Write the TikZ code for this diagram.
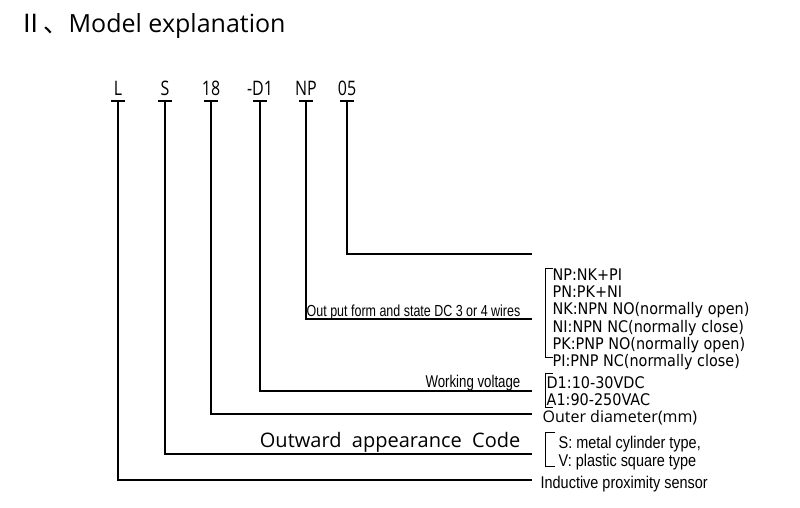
\documentclass[tikz,border=0pt]{standalone}
\usepackage{fontspec}
\setmainfont{DejaVu Sans}
\newfontfamily\cond[FakeStretch=0.78]{Liberation Sans}
\newfontfamily\condb[FakeStretch=0.85]{Liberation Sans}
\newfontfamily\mono[FakeStretch=0.9]{DejaVu Sans}
\newfontfamily\ttl{Open Sans}
\newfontfamily\codef[FakeStretch=0.8]{Open Sans}
\newfontfamily\cjk{Noto Sans CJK SC}
\begin{document}
\begin{tikzpicture}[x=1pt,y=-1pt,line width=1.3pt,
  code/.style={inner sep=0pt,anchor=base,font=\codef\fontsize{20}{20}\selectfont},
  lab/.style={inner sep=0pt,anchor=base east,font=\cond\fontsize{16}{16}\selectfont},
  opt/.style={inner sep=0pt,anchor=base west,font=\mono\fontsize{16}{16}\selectfont},
  opts/.style={inner sep=0pt,anchor=base west,font=\condb\fontsize{17}{17}\selectfont}]
\useasboundingbox (0,0) rectangle (800,508);
\node[inner sep=0pt,anchor=base west,font=\ttl\fontsize{25}{25}\selectfont] (title) at (18,33) {{\cjk Ⅱ、}Model explanation};
\foreach \n/\x/\t in {cL/118/L,cS/165/S,c18/211/18,cD/260/-D1,cNP/306/NP,c05/347/05}{
  \node[code] (\n) at (\x,96) {\t};
  \draw (\x-7,101) -- (\x+7,101);
}
\coordinate (e05) at (532,254);
\coordinate (eNP) at (532,319);
\coordinate (eD) at (532,391);
\coordinate (e18) at (532,414);
\coordinate (eS) at (532,454);
\coordinate (eL) at (532,480);
\draw (cL.south |- 0,101) |- (eL);
\draw (cS.south |- 0,101) |- (eS);
\draw (c18.south |- 0,101) |- (e18);
\draw (cD.south |- 0,101) |- (eD);
\draw (cNP.south |- 0,101) |- (eNP);
\draw (c05.south |- 0,101) |- (e05);
% labels
\node[lab] (out) at (521,316) {Out put form and state DC 3 or 4 wires};
\node[lab,font=\cond\fontsize{17}{17}\selectfont] (wv) at (521,387) {Working voltage};
\node[lab,font=\ttl\fontsize{20}{20}\selectfont] (oac) at (521,447) {Outward\ \ appearance\ \ Code};
\node[opts,font=\ttl\fontsize{16}{16}\selectfont] (od) at (542,422) {Outer diameter(mm)};
\node[opts] (ips) at (540,488) {Inductive proximity sensor};
% NP list
\draw[line width=1pt] (553,268) -- (545,268) -- (545,357) -- (553,357);
\foreach \t [count=\i] in {NP:NK+PI,PN:PK+NI,NK:NPN NO(normally open),NI:NPN NC(normally close),PK:PNP NO(normally open),PI:PNP NC(normally close)}
  \node[opt] (np\i) at (552,263+\i*17.3) {\t};
% voltage
\draw[line width=1pt] (553,373) -- (545,373) -- (545,407) -- (553,407);
\node[opt] (d1) at (546,388) {D1:10-30VDC};
\node[opt] (a1) at (546,405) {A1:90-250VAC};
% S/V
\draw[line width=1pt] (555,432) -- (545,432) -- (545,466) -- (555,466);
\node[opts] (sv1) at (558,448) {S: metal cylinder type,};
\node[opts] (sv2) at (558,466) {V: plastic square type};
\end{tikzpicture}
\end{document}
